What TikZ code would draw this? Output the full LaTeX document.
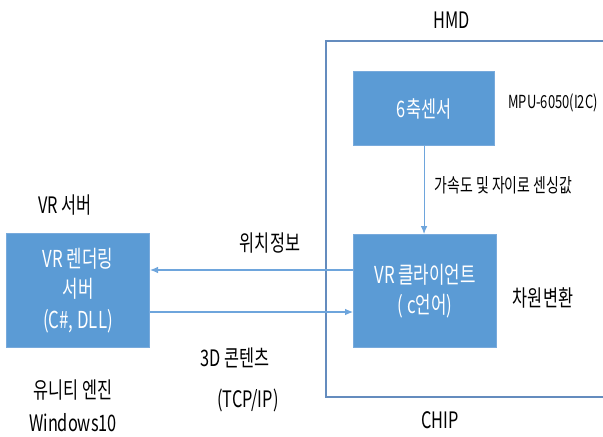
\documentclass[tikz,border=0pt]{standalone}
\usepackage{fontspec}
\setmainfont{Noto Sans CJK KR}[FakeStretch=0.72]
\usetikzlibrary{arrows.meta}
\definecolor{boxblue}{RGB}{91,155,213}
\definecolor{boxedge}{RGB}{120,170,220}
\definecolor{arrblue}{RGB}{110,165,220}
\definecolor{framec}{RGB}{100,140,190}
\tikzset{
  blk/.style={draw=boxedge, line width=0.8pt, fill=boxblue, text=white, inner sep=0pt, anchor=north west, align=center},
  arr/.style={draw=arrblue, line width=0.8pt, -{Latex[length=6pt,width=5pt]}},
  big/.style={font=\fontsize{17}{20}\selectfont},
  mid/.style={font=\fontsize{17.5}{23}\selectfont},
  sml/.style={font=\fontsize{14.5}{17}\selectfont},
}
\begin{document}
\begin{tikzpicture}[x=0.75pt,y=-0.75pt]
\useasboundingbox (0,0) rectangle (603,436);
% HMD frame (open on the right)
\draw[framec, line width=0.9pt] (603,41) -- (326,41) -- (326,397) -- (603,397);
% boxes
\node[blk, minimum width=141*0.75pt, minimum height=74*0.75pt, big] (sensor) at (353,71) {6축센서};
\node[blk, minimum width=143*0.75pt, minimum height=113*0.75pt, mid] (client) at (353,234) {VR 클라이언트\\( c언어)};
\node[blk, minimum width=143*0.75pt, minimum height=114*0.75pt, mid] (server) at (6,233) {VR 렌더링\\서버\\(C\#, DLL)};
% connectors
\coordinate (yA) at (0,270);
\coordinate (yB) at (0,312);
\draw[arr] (client.west |- yA) -- (server.east |- yA);
\draw[arr] (server.east |- yB) -- (client.west |- yB);
\draw[arr] (sensor.south) -- (sensor.south |- client.north);
% labels
\node[big] (hmd) at (452,20) {HMD};
\node[font=\fontsize{13.5}{16}\selectfont] (mpu) at (553,103) {MPU-6050(I2C)};
\node[sml, anchor=west] (accel) at (430,185) {가속도 및 자이로 센싱값};
\node[big] (conv) at (543,298) {차원변환};
\node[big] (chip) at (440,420) {CHIP};
\node[big] (vrsrv) at (65,205) {VR 서버};
\node[big] (pos) at (270,243) {위치정보};
\node[big] (c3d) at (235,358) {3D 콘텐츠};
\node[big] (tcp) at (248,400) {(TCP/IP)};
\node[big] (unity) at (73,390) {유니티 엔진};
\node[big] (win) at (73,423) {Windows10};
\end{tikzpicture}
\end{document}
